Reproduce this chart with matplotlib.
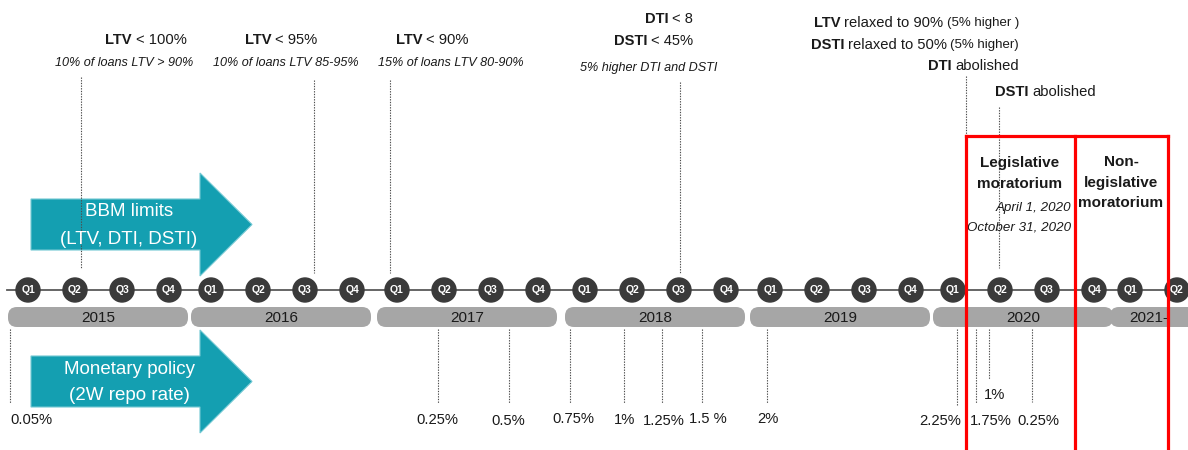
import numpy as np
import matplotlib
matplotlib.use("Agg")
import matplotlib.pyplot as plt
from matplotlib.patches import Circle, FancyBboxPatch, Polygon

plt.rcParams['font.family'] = ['Liberation Sans', 'DejaVu Sans']

# --- data -------------------------------------------------------------
years = [2015, 2016, 2017, 2018, 2019, 2020, 2021]
year_labels = ['2015', '2016', '2017', '2018', '2019', '2020', '2021-']
quarters_per_year = [4, 4, 4, 4, 4, 4, 2]

# borrower-based measures (dates as fractional years)
bbm_dates = [2015.28, 2016.55, 2016.95, 2018.505, 2020.07, 2020.245]
bbm_texts = [
    [[('LTV', 'b'), ('< 100%', 'r')], [('10% of loans LTV > 90%', 'i')]],
    [[('LTV', 'b'), ('< 95%', 'r')], [('10% of loans LTV 85-95%', 'i')]],
    [[('LTV', 'b'), ('< 90%', 'r')], [('15% of loans LTV 80-90%', 'i')]],
    [[('DTI', 'b'), ('< 8', 'r')], [('DSTI', 'b'), ('< 45%', 'r')],
     [('5% higher DTI and DSTI', 'i')]],
    [[('LTV', 'b'), ('relaxed to 90%', 'r'), ('(5% higher )', 's')],
     [('DSTI', 'b'), ('relaxed to 50%', 'r'), ('(5% higher)', 's')],
     [('DTI', 'b'), ('abolished', 'r')]],
    [[('DSTI', 'b'), ('abolished', 'r')]],
]

# 2W repo rate changes
rate_dates = [2014.905, 2017.22, 2017.595, 2017.92, 2018.21, 2018.41, 2018.62,
              2018.97, 2020.022, 2020.122, 2020.19, 2020.42]
rate_labels = ['0.05%', '0.25%', '0.5%', '0.75%', '1%', '1.25%', '1.5 %',
               '2%', '2.25%', '1.75%', '1%', '0.25%']

# moratorium periods
moratorium_dates = [2020.07, 2020.65, 2021.2]
moratorium_titles = ['Legislative\nmoratorium', 'Non-\nlegislative\nmoratorium']
legislative_period = ['April 1, 2020', 'October 31, 2020']

# --- layout -----------------------------------------------------------
YEAR_X0 = [28, 211, 397, 585, 770, 953, 1130]
Q_STEP = 47
LINE_Y = 290

bbm_text_pos = [
    [(146, 40, 'center'), (124, 63, 'center')],
    [(281, 40, 'center'), (286, 63, 'center')],
    [(432, 40, 'center'), (451, 63, 'center')],
    [(693, 19, 'right'), (693, 41, 'right'), (649, 68, 'center')],
    [(1019, 23, 'right'), (1019, 45, 'right'), (1019, 66, 'right')],
    [(995, 92, 'left')],
]
bbm_line_span = [(77, 268), (80, 273), (80, 273), (82, 273), (76, 136), (107, 268)]

rate_label_dx = [0, -1, -1, 3, 0, 2, 6, 1, -17, 15, 6, 6]
rate_label_y = [420, 420, 421, 419, 420, 421, 419, 419, 421, 421, 395, 421]
rate_line_bottom = [403, 403, 403, 403, 403, 403, 403, 403, 405, 403, 379, 402]


def tx(date):
    k = int(np.clip(np.floor(date) - years[0], 0, len(years) - 1))
    return YEAR_X0[k] + 4 * Q_STEP * (date - years[0] - k)


fig = plt.figure(figsize=(11.88, 4.5), dpi=100)
ax = fig.add_axes([0, 0, 1, 1])
ax.set_xlim(0, 1188)
ax.set_ylim(450, 0)
ax.axis('off')
renderer = fig.canvas.get_renderer()

STYLES = {
    'b': dict(fontsize=10.6, fontweight='bold'),
    'r': dict(fontsize=10.6),
    's': dict(fontsize=9.5),
    'i': dict(fontsize=9.1, fontstyle='italic'),
}
GAP = 3.5


def rich_line(x, y, runs, ha):
    parts = [ax.text(0, y, s, ha='left', va='center', color='#1a1a1a', zorder=7, **STYLES[k])
             for s, k in runs]
    widths = [p.get_window_extent(renderer).width for p in parts]
    total = sum(widths) + GAP * (len(parts) - 1)
    start = {'left': x, 'center': x - total / 2, 'right': x - total}[ha]
    for p, w in zip(parts, widths):
        p.set_x(start)
        start += w + GAP


def arrow(yc, lines):
    pts = [(31, yc - 25.5), (200, yc - 25.5), (200, yc - 51.5), (252, yc),
           (200, yc + 51.5), (200, yc + 25.5), (31, yc + 25.5)]
    ax.add_patch(Polygon(pts, closed=True, fc='#149fb1', ec='#72c8d3', lw=0.8, zorder=4))
    for i, s in enumerate(lines):
        ax.text(129, yc - 12.5 + 27 * i, s, ha='center', va='center', color='white',
                fontsize=13.5, zorder=6)


# timeline with quarter markers
ax.plot([7, 1188], [LINE_Y, LINE_Y], color='#595959', lw=1.3, zorder=2)
for k, (yr, nq) in enumerate(zip(years, quarters_per_year)):
    for q in range(nq):
        x = tx(yr + q / 4)
        ax.add_patch(Circle((x, LINE_Y), 12, color='#3a3a3a', zorder=3))
        ax.text(x, LINE_Y, 'Q%d' % (q + 1), ha='center', va='center', color='white',
                fontsize=7.5, fontweight='bold', zorder=4)
    left = YEAR_X0[k] - 20
    ax.add_patch(FancyBboxPatch((left, 307), 180, 20, boxstyle='round,pad=0,rounding_size=9',
                                fc='#a6a6a6', ec='none', zorder=2))
    ax.text(min(left + 90, (left + 1188) / 2), 318.5, year_labels[k], ha='center', va='center',
            fontsize=11, color='#1a1a1a', zorder=3)

arrow(224.5, ['BBM limits', '(LTV, DTI, DSTI)'])
arrow(381.5, ['Monetary policy', '(2W repo rate)'])

# borrower-based measures above the timeline
for d, span, texts, pos in zip(bbm_dates, bbm_line_span, bbm_texts, bbm_text_pos):
    x = tx(d)
    ax.plot([x, x], span, color='#4d4d4d', lw=0.8, ls=(0, (1.2, 1.2)), zorder=5)
    for runs, (px, py, ha) in zip(texts, pos):
        rich_line(px, py, runs, ha)

# repo rate changes below the timeline
for d, lab, dx, ly, yb in zip(rate_dates, rate_labels, rate_label_dx, rate_label_y, rate_line_bottom):
    x = tx(d)
    ax.plot([x, x], [329, yb], color='#4d4d4d', lw=0.8, ls=(0, (1.2, 1.2)), zorder=5)
    ax.text(x + dx, ly, lab, ha='left' if lab == '0.05%' else 'center', va='center',
            fontsize=10.6, color='#1a1a1a', zorder=6)

# moratorium boxes
xs = [tx(d) for d in moratorium_dates]
ax.plot([xs[0], xs[-1]], [136, 136], color='#ff0000', lw=2.3, solid_capstyle='projecting', zorder=10)
for x in xs:
    ax.plot([x, x], [136, 452], color='#ff0000', lw=2.3, solid_capstyle='projecting', zorder=10)

for (cx, y0), title in zip([(1020, 163), (1121, 162)], moratorium_titles):
    for i, s in enumerate(title.split('\n')):
        ax.text(cx, y0 + 20.5 * i, s, ha='center', va='center', fontsize=11,
                fontweight='bold', color='#1a1a1a', zorder=7)
for i, s in enumerate(legislative_period):
    ax.text(1071, 208 + 19 * i, s, ha='right', va='center', fontsize=9.6,
            fontstyle='italic', color='#1a1a1a', zorder=7)

fig.savefig('out.png', dpi=100, facecolor='white')
